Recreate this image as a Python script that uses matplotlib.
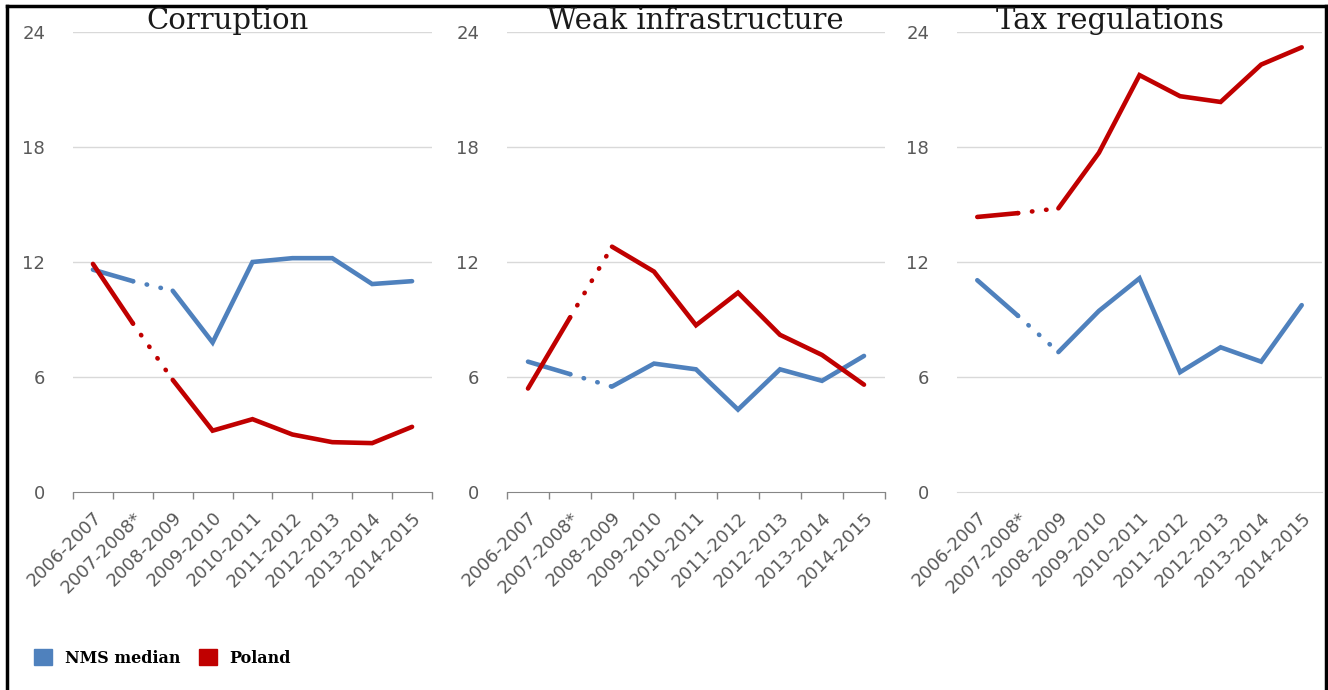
import matplotlib.pyplot as plt
from matplotlib.patches import Patch
from matplotlib.lines import Line2D


periods = ["2006-2007", "2007-2008*", "2008-2009", "2009-2010", "2010-2011",
           "2011-2012", "2012-2013", "2013-2014", "2014-2015"]
titles = ["Corruption", "Weak infrastructure", "Tax regulations"]

# values (share of firms, %)
nms_corruption = [11.6, 11.0, 10.5, 7.8, 12.0, 12.2, 12.2, 10.85, 11.0]
pl_corruption = [11.9, 8.8, 5.85, 3.2, 3.8, 3.0, 2.6, 2.55, 3.4]
nms_infra = [6.8, 6.15, 5.5, 6.7, 6.4, 4.3, 6.4, 5.8, 7.1]
pl_infra = [5.4, 9.1, 12.8, 11.5, 8.7, 10.4, 8.2, 7.15, 5.6]
nms_tax = [11.05, 9.2, 7.3, 9.45, 11.15, 6.25, 7.55, 6.8, 9.75]
pl_tax = [14.35, 14.55, 14.8, 17.7, 21.75, 20.65, 20.35, 22.3, 23.2]

yticks = [0, 6, 12, 18, 24]

BLUE = "#4F81BD"
RED = "#C00000"
GRID = "#D9D9D9"
TXT = "#595959"

fig = plt.figure(figsize=(13.28, 6.9), dpi=100)

# axes boxes in pixels (left, right)
boxes = [(73, 432), (507, 885), (957, 1322)]
title_x = [228, 695, 1110]
series = [(nms_corruption, pl_corruption), (nms_infra, pl_infra), (nms_tax, pl_tax)]
W, H = 1328.0, 690.0
bottom = 1 - 492 / H
height = (492 - 32) / H


def draw_series(ax, vals, color):
    x = list(range(len(vals)))
    # solid to 2007-2008*, dotted to 2008-2009, solid after
    ax.plot(x[:2], vals[:2], color=color, lw=3.3, solid_capstyle="round", zorder=3)
    ax.plot(x[1:3], vals[1:3], color=color, lw=3.3, linestyle=(0, (0.1, 3.0)),
            dash_capstyle="round", zorder=3)
    ax.plot(x[2:], vals[2:], color=color, lw=3.3, solid_capstyle="round",
            solid_joinstyle="miter", zorder=3)


for i, (l, r) in enumerate(boxes):
    ax = fig.add_axes([l / W, bottom, (r - l) / W, height])
    nms, pl = series[i]
    draw_series(ax, nms, BLUE)
    draw_series(ax, pl, RED)

    ax.set_xlim(-0.5, len(periods) - 0.5)
    ax.set_ylim(0, 24)
    ax.set_yticks(yticks)
    ax.set_yticklabels([str(t) for t in yticks], color=TXT, fontsize=13)
    ax.tick_params(axis="y", length=0, pad=20)
    for t in yticks[1:]:
        ax.axhline(t, color=GRID, lw=1, zorder=1)

    ax.set_xticks(range(len(periods)))
    ax.set_xticklabels(periods, rotation=45, ha="right", va="top",
                       rotation_mode="anchor", color=TXT, fontsize=13)
    ax.tick_params(axis="x", length=0, pad=12)
    if i < 2:
        ax.set_xticks([k - 0.5 for k in range(len(periods) + 1)], minor=True)
        ax.tick_params(axis="x", which="minor", length=5, color="#868686", width=1)
        ax.spines["bottom"].set_color("#868686")
    else:
        ax.spines["bottom"].set_color(GRID)
    for s in ["top", "right", "left"]:
        ax.spines[s].set_visible(False)

    fig.text(title_x[i] / W, 1 - 29 / H, titles[i], ha="center", va="baseline",
             fontsize=21, family="DejaVu Serif", color="#1a1a1a")

handles = [Patch(facecolor=BLUE, edgecolor=BLUE), Patch(facecolor=RED, edgecolor=RED)]
fig.legend(handles, ["NMS median", "Poland"], loc="center left",
           bbox_to_anchor=(20 / W, 1 - 658 / H), ncol=2, frameon=False,
           handlelength=1.1, handleheight=1.1, handletextpad=0.8, columnspacing=1.2,
           prop={"family": "DejaVu Serif", "weight": "bold", "size": 11.5})

# outer frame
kw = dict(color="black", lw=2.5, transform=fig.transFigure)
fig.add_artist(Line2D([7 / W, 7 / W], [0, 1 - 6 / H], **kw))
fig.add_artist(Line2D([7 / W, 1326 / W], [1 - 6 / H, 1 - 6 / H], **kw))
fig.add_artist(Line2D([1326 / W, 1326 / W], [0, 1 - 6 / H], **kw))

fig.savefig("out.png", dpi=100)
